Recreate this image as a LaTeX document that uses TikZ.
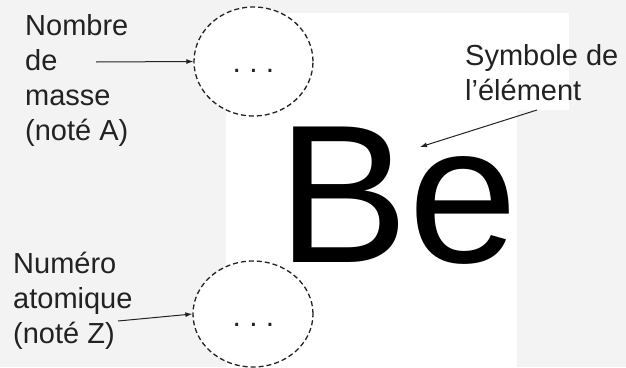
\documentclass[tikz,border=0pt]{standalone}
\usepackage{fontspec}
\setmainfont{Liberation Sans}
\usetikzlibrary{arrows.meta,shapes.geometric}
\definecolor{bggray}{HTML}{F3F3F3}
\definecolor{ink}{HTML}{222222}
\tikzset{
  lbl/.style={anchor=base west,inner sep=0pt,align=left,text=ink,
    font=\fontsize{29}{35}\selectfont},
  dotted circ/.style={draw=ink,ellipse,line width=1.3pt,dash pattern=on 5pt off 3pt,
    fill=white,inner sep=0pt},
  dots/.style={anchor=base,inner sep=0pt,text=ink,font=\fontsize{30}{35}\selectfont},
  arr/.style={draw=ink,line width=1pt,-{Latex[length=7pt,width=5pt]}},
}
\begin{document}
\begin{tikzpicture}[x=1pt,y=-1pt]
  \fill[bggray] (0,0) rectangle (626,367);
  \useasboundingbox (0,0) rectangle (626,367);
  \fill[white] (226,13) rectangle (517,367);
  \fill[white] (517,13) rectangle (569,110);

  \node[dotted circ,minimum width=119pt,minimum height=109pt] (massecirc) at (253.5,61.5) {};
  \node[dotted circ,minimum width=120pt,minimum height=106pt] (numcirc) at (253,314) {};
  \node[dots] (massedots) at (253.5,72) {.\ .\ .};
  \node[dots] (numdots) at (253.5,326) {.\ .\ .};

  \node[anchor=base west,inner sep=0pt,font=\fontsize{197}{200}\selectfont] (be) at (277,262) {Be};

  % anchor = baseline of the last line
  \node[lbl] (massetxt) at (25,140) {Nombre\\de\\masse\\(noté A)};
  \node[lbl] (numtxt) at (13,343) {Numéro\\atomique\\(noté Z)};
  \node[lbl] (symtxt) at (465,100) {Symbole de\\l’élément};

  \coordinate (a1) at (96,62);
  \coordinate (a2) at (118,321);
  \coordinate (a3) at (537,110);
  \coordinate (a3e) at (420,147);

  \draw[arr] (a1) -- (massecirc.west);
  \draw[arr] (a2) -- (numcirc.west);
  \draw[arr] (a3) -- (a3e);
\end{tikzpicture}
\end{document}
